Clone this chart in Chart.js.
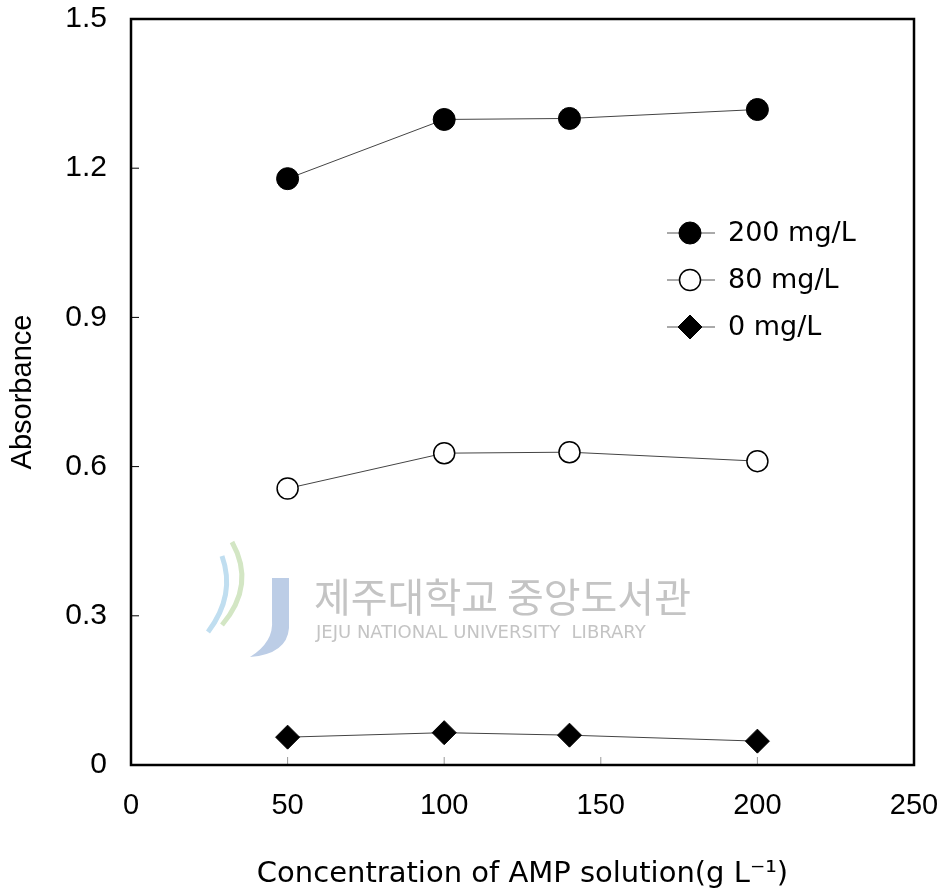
<!DOCTYPE html>
<html>
<head>
<meta charset="utf-8">
<script src="https://cdn.jsdelivr.net/npm/chart.js@4"></script>
<style>
  html, body { margin: 0; padding: 0; background: #fff; }
  #wrap { width: 949px; height: 896px; position: relative; }
</style>
</head>
<body>
<div id="wrap"><canvas id="chart" width="949" height="896"></canvas></div>
<script>
// data
const concentrations = [50, 100, 140, 200];
const abs200 = [1.179, 1.298, 1.300, 1.318];
const abs80 = [0.556, 0.627, 0.629, 0.611];
const abs0 = [0.056, 0.065, 0.060, 0.048];
const seriesNames = ['200 mg/L', '80 mg/L', '0 mg/L'];
const xTicks = [0, 50, 100, 150, 200, 250];
const yTicks = [0, 0.3, 0.6, 0.9, 1.2, 1.5];

const FONT = '"Liberation Sans", Arial, sans-serif';
const WIDE = '"DejaVu Sans", sans-serif';

const pts = (ys) => concentrations.map((x, i) => ({ x: x, y: ys[i] }));

// frame + inner tick marks
const framePlugin = {
    id: 'frame',
    afterDatasetsDraw(chart) {
        const { ctx, chartArea: a, scales } = chart;
        ctx.save();
        ctx.strokeStyle = '#000';
        ctx.lineWidth = 1;
        yTicks.slice(1, -1).forEach(v => {
            const y = scales.y.getPixelForValue(v);
            ctx.beginPath(); ctx.moveTo(a.left, y); ctx.lineTo(a.left + 8, y); ctx.stroke();
        });
        ctx.strokeStyle = '#999';
        xTicks.slice(1, -1).forEach(v => {
            const x = scales.x.getPixelForValue(v);
            ctx.beginPath(); ctx.moveTo(x, a.bottom); ctx.lineTo(x, a.bottom - 8); ctx.stroke();
        });
        ctx.strokeStyle = '#000';
        ctx.lineWidth = 2.5;
        ctx.strokeRect(a.left, a.top, a.right - a.left, a.bottom - a.top);
        ctx.restore();
    }
};

// faint library watermark behind the data
const watermarkPlugin = {
    id: 'watermark',
    beforeDatasetsDraw(chart) {
        const { ctx } = chart;
        ctx.save();
        // logo: J bar and swooshes
        ctx.fillStyle = '#bccde6';
        ctx.beginPath();
        ctx.moveTo(272, 578); ctx.lineTo(289, 578); ctx.lineTo(289, 628);
        ctx.quadraticCurveTo(287, 654, 250, 657);
        ctx.quadraticCurveTo(274, 642, 272, 620);
        ctx.closePath(); ctx.fill();
        ctx.lineWidth = 5;
        ctx.strokeStyle = '#d3e6c4';
        ctx.beginPath(); ctx.moveTo(232, 542); ctx.quadraticCurveTo(256, 585, 222, 625); ctx.stroke();
        ctx.strokeStyle = '#c0def0';
        ctx.beginPath(); ctx.moveTo(222, 556); ctx.quadraticCurveTo(236, 595, 208, 632); ctx.stroke();
        ctx.fillStyle = '#c4c4c4';
        ctx.textBaseline = 'middle';
        ctx.font = '40px "Noto Sans CJK KR", sans-serif';
        ctx.fillText('제주대학교 중앙도서관', 314, 597);
        ctx.font = '18px ' + WIDE;
        ctx.fillText('JEJU NATIONAL UNIVERSITY  LIBRARY', 316, 633);
        ctx.restore();
    }
};

// legend drawn inside the plot area, like the original
const legendPlugin = {
    id: 'insideLegend',
    afterDatasetsDraw(chart) {
        const { ctx } = chart;
        const x0 = 667, x1 = 715, xm = 690, xt = 728;
        const rows = [233, 280, 327];
        ctx.save();
        chart.data.datasets.forEach((ds, i) => {
            const y = rows[i];
            ctx.strokeStyle = '#555';
            ctx.lineWidth = 1;
            ctx.beginPath(); ctx.moveTo(x0, y); ctx.lineTo(x1, y); ctx.stroke();
            ctx.fillStyle = ds.pointBackgroundColor;
            ctx.strokeStyle = '#000';
            ctx.lineWidth = ds.pointBorderWidth;
            ctx.beginPath();
            if (ds.pointStyle === 'rectRot') {
                const r = ds.pointRadius;
                ctx.moveTo(xm, y - r); ctx.lineTo(xm + r, y); ctx.lineTo(xm, y + r); ctx.lineTo(xm - r, y); ctx.closePath();
            } else {
                ctx.arc(xm, y, ds.pointRadius, 0, Math.PI * 2);
            }
            ctx.fill(); ctx.stroke();
            ctx.fillStyle = '#000';
            ctx.font = '27px ' + WIDE;
            ctx.textBaseline = 'middle';
            ctx.fillText(ds.label, xt, y + 1);
        });
        ctx.restore();
    }
};

function lineSet(label, data, style, fill, radius, bw) {
    return {
        label: label,
        data: pts(data),
        borderColor: '#444',
        borderWidth: 1,
        pointStyle: style,
        pointRadius: radius,
        pointHoverRadius: radius,
        pointBackgroundColor: fill,
        pointBorderColor: '#000',
        pointBorderWidth: bw,
        tension: 0
    };
}

new Chart(document.getElementById('chart').getContext('2d'), {
    type: 'line',
    data: {
        datasets: [
            lineSet(seriesNames[0], abs200, 'circle', '#000', 11, 1),
            lineSet(seriesNames[1], abs80, 'circle', '#fff', 10.5, 1.5),
            lineSet(seriesNames[2], abs0, 'rectRot', '#000', 12, 1)
        ]
    },
    options: {
        responsive: false,
        animation: false,
        layout: { padding: { top: 19, right: 35, left: 0, bottom: 0 } },
        plugins: { legend: { display: false }, tooltip: { enabled: false } },
        scales: {
            x: {
                type: 'linear',
                min: 0, max: 250,
                afterBuildTicks: (s) => { s.ticks = xTicks.map(v => ({ value: v })); },
                afterFit: (s) => { s.height = 131; s.paddingLeft = 0; s.paddingRight = 0; },
                grid: { display: false, drawTicks: false },
                border: { display: false },
                ticks: { color: '#000', padding: 24, font: { family: FONT, size: 29 }, maxRotation: 0 },
                title: {
                    display: true,
                    text: 'Concentration of AMP solution(g L\u207B\u00B9)',
                    color: '#000',
                    font: { family: WIDE, size: 29 },
                    padding: { top: 30 }
                }
            },
            y: {
                min: 0, max: 1.5,
                afterBuildTicks: (s) => { s.ticks = yTicks.map(v => ({ value: v })); },
                afterFit: (s) => { s.width = 131; s.paddingTop = 0; s.paddingBottom = 0; },
                grid: { display: false, drawTicks: false },
                border: { display: false },
                ticks: {
                    color: '#000', padding: 24, font: { family: FONT, size: 30 },
                    callback: (v) => v === 0 ? '0' : v.toFixed(1)
                },
                title: {
                    display: true,
                    text: 'Absorbance',
                    color: '#000',
                    font: { family: FONT, size: 29 },
                    padding: { bottom: 0, top: 6 }
                }
            }
        }
    },
    plugins: [watermarkPlugin, framePlugin, legendPlugin]
});
</script>
</body>
</html>
